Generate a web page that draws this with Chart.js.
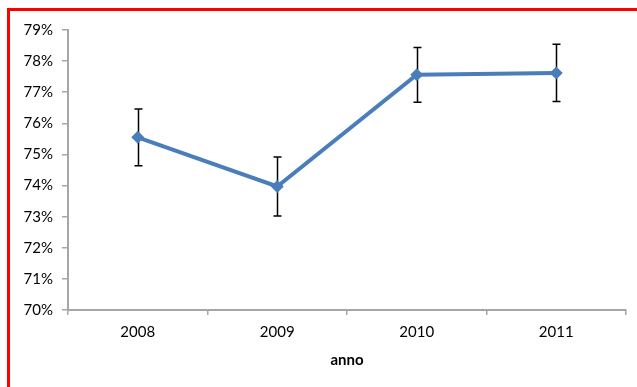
<!DOCTYPE html>
<html>
<head>
<meta charset="utf-8">
<script src="https://cdn.jsdelivr.net/npm/chart.js@4"></script>
<style>
  html, body { margin:0; padding:0; background:#fff; }
  #wrap { position:relative; width:637px; height:387px; overflow:hidden; }
  #frame { position:absolute; left:7px; top:8px; width:700px; height:500px;
           border-left:3px solid #ff0000; border-top:3px solid #ff0000; }
  canvas { position:absolute; left:0; top:0; }
</style>
</head>
<body>
<div id="wrap">
  <div id="frame"></div>
  <canvas id="chart" width="637" height="387"></canvas>
</div>
<script>
const anni = ["2008","2009","2010","2011"];
const valori = [75.55, 73.97, 77.56, 77.62];
const errori = [0.91, 0.95, 0.88, 0.92];

const blu = "#4a7ebb";
const grigio = "#a6a6a6";

// barre d'errore disegnate sulla scala y
const errorBars = {
  id: "errorBars",
  beforeDatasetsDraw(chart){
    const ctx = chart.ctx;
    const x = chart.scales.x, y = chart.scales.y;
    ctx.save();
    ctx.strokeStyle = "#000";
    ctx.lineWidth = 1.5;
    valori.forEach((v,i)=>{
      const px = Math.round(x.getPixelForValue(i)) + 0.5;
      const top = y.getPixelForValue(v + errori[i]);
      const bot = y.getPixelForValue(v - errori[i]);
      ctx.beginPath();
      ctx.moveTo(px, top); ctx.lineTo(px, bot);
      ctx.moveTo(px-4, top); ctx.lineTo(px+4, top);
      ctx.moveTo(px-4, bot); ctx.lineTo(px+4, bot);
      ctx.stroke();
    });
    ctx.restore();
  }
};

new Chart(document.getElementById("chart").getContext("2d"), {
  type: "line",
  data: {
    labels: anni,
    datasets: [{
      data: valori,
      borderColor: blu,
      backgroundColor: blu,
      borderWidth: 4,
      pointStyle: "rectRot",
      pointRadius: 6.5,
      pointBorderWidth: 0,
      tension: 0
    }]
  },
  options: {
    responsive: false,
    animation: false,
    layout: { padding: { left: 0, top: 30, right: 11, bottom: 18 } },
    plugins: { legend: { display: false }, tooltip: { enabled: false } },
    scales: {
      x: {
        offset: true,
        afterFit(s){ s.height = 59; },
        grid: { offset: true, drawOnChartArea: false, tickLength: 5, color: grigio, lineWidth: 1.5 },
        border: { color: grigio, width: 2 },
        ticks: { color: "#000", padding: 8, font: { family: "Lato", size: 15 } },
        title: { display: true, text: "anno", color: "#000", padding: 0,
                 font: { family: "Lato", size: 15, weight: "bold" } }
      },
      y: {
        min: 70, max: 79,
        afterFit(s){ s.width = 68; },
        grid: { drawOnChartArea: false, tickLength: 6, color: grigio, lineWidth: 1.5 },
        border: { color: grigio, width: 2 },
        ticks: { stepSize: 1, color: "#000", padding: 9,
                 font: { family: "Lato", size: 15 },
                 callback: v => v + "%" }
      }
    }
  },
  plugins: [errorBars]
});
</script>
</body>
</html>
